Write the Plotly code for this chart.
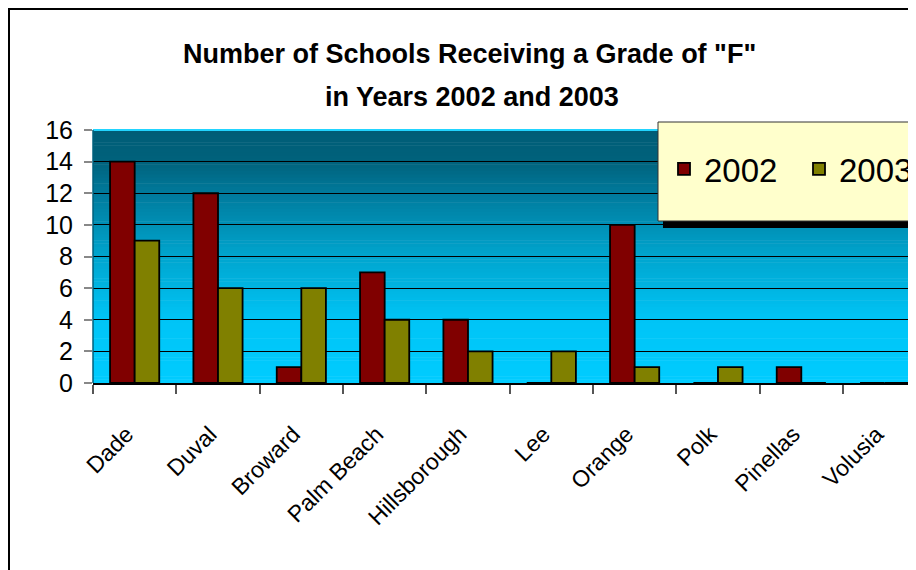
import plotly.graph_objects as go

counties = ["Dade", "Duval", "Broward", "Palm Beach", "Hillsborough",
            "Lee", "Orange", "Polk", "Pinellas", "Volusia"]
f_2002 = [14, 12, 1, 7, 4, 0, 10, 0, 1, 0]
f_2003 = [9, 6, 6, 4, 2, 2, 1, 1, 0, 0]
y_ticks = [0, 2, 4, 6, 8, 10, 12, 14, 16]
title_line1 = 'Number of Schools Receiving a Grade of "F"'
title_line2 = "in Years 2002 and 2003"

# page body has an 8px margin, so the figure is drawn 8px right/down
OFF = 8
W, H = 916, 570
# target plot area in screen pixels
SX0, SX1, SY0, SY1 = 93, 916, 130, 383
L = SX0 - OFF
R = W - (SX1 - OFF)
T = SY0 - OFF
B = H - (SY1 - OFF)
PW, PH = W - L - R, H - T - B
CAT_PX = 83.33


def px_x(px):
    return (px - SX0) / PW


def px_y(py):
    return (SY1 - py) / PH


FONT = "Liberation Sans, Arial, sans-serif"

fig = go.Figure()
fig.add_trace(go.Bar(name="2002", x=counties, y=f_2002,
                     marker=dict(color="#800000", line=dict(color="black", width=1.8))))
fig.add_trace(go.Bar(name="2003", x=counties, y=f_2003,
                     marker=dict(color="#808000", line=dict(color="black", width=1.8))))

# vertical gradient background of plot area
stops = [(0.0, (0, 204, 255)), (0.25, (0, 196, 246)), (0.5, (0, 165, 206)),
         (0.75, (0, 122, 156)), (0.875, (0, 98, 124)), (1.0, (0, 92, 118))]


def col_at(t):
    for (t0, c0), (t1, c1) in zip(stops[:-1], stops[1:]):
        if t0 <= t <= t1:
            f = (t - t0) / (t1 - t0) if t1 > t0 else 0
            return "rgb(%d,%d,%d)" % tuple(round(a + (b - a) * f) for a, b in zip(c0, c1))
    return "rgb(%d,%d,%d)" % stops[-1][1]


shapes = []
N = 80
for i in range(N):
    t0, t1 = i / N, (i + 1) / N
    shapes.append(dict(type="rect", xref="x domain", yref="y domain", layer="below",
                       x0=0, x1=1, y0=t0, y1=t1 + 0.002, line=dict(width=0),
                       fillcolor=col_at((t0 + t1) / 2)))
# plot area edges
shapes.append(dict(type="line", xref="x domain", yref="y domain", x0=0, x1=1, y0=1, y1=1,
                   line=dict(color="#22d4ff", width=2), layer="above"))
shapes.append(dict(type="line", xref="x domain", yref="y domain", x0=0, x1=0, y0=0, y1=1,
                   line=dict(color="#00617c", width=1.5), layer="above"))
# legend shadow + box
shapes.append(dict(type="rect", xref="paper", yref="paper",
                   x0=px_x(663), x1=px_x(945), y0=px_y(228), y1=px_y(127),
                   fillcolor="black", line=dict(width=0), layer="above"))
shapes.append(dict(type="rect", xref="paper", yref="paper",
                   x0=px_x(658), x1=px_x(940), y0=px_y(221), y1=px_y(122),
                   fillcolor="#FFFFCC", line=dict(color="#333333", width=1), layer="above"))
# outer chart frame
shapes.append(dict(type="rect", xref="paper", yref="paper",
                   x0=px_x(9), x1=px_x(940), y0=px_y(590), y1=px_y(9),
                   fillcolor="rgba(0,0,0,0)", line=dict(color="black", width=2), layer="above"))

annotations = [
    dict(text="<b>%s</b>" % title_line1, xref="paper", yref="paper",
         x=px_x(469), y=px_y(54), showarrow=False, xanchor="center", yanchor="middle",
         font=dict(family=FONT, size=27, color="black")),
    dict(text="<b>%s</b>" % title_line2, xref="paper", yref="paper",
         x=px_x(472), y=px_y(97), showarrow=False, xanchor="center", yanchor="middle",
         font=dict(family=FONT, size=27, color="black")),
]

fig.update_layout(
    width=W, height=H,
    margin=dict(l=L, r=R, t=T, b=B, pad=0, autoexpand=False),
    paper_bgcolor="white",
    plot_bgcolor="rgba(0,0,0,0)",
    barmode="group",
    bargap=0.41,
    bargroupgap=0,
    font=dict(family=FONT, color="black"),
    shapes=shapes,
    annotations=annotations,
    showlegend=True,
    legend=dict(orientation="h", x=px_x(664), y=px_y(169), xanchor="left", yanchor="middle",
                bgcolor="rgba(0,0,0,0)", borderwidth=0,
                font=dict(family=FONT, size=33, color="black"),
                entrywidth=90, entrywidthmode="pixels"),
    xaxis=dict(
        type="category", range=[-0.5, -0.5 + PW / CAT_PX],
        tickangle=-45, tickfont=dict(size=23),
        ticks="outside", tickson="boundaries", ticklen=9, tickcolor="#555555", tickwidth=1.5,
        showline=True, linecolor="black", linewidth=1.5,
        showgrid=False, ticklabelstandoff=27, ticklabelshift=-8,
    ),
    yaxis=dict(
        range=[0, 16], tickvals=y_ticks, tickfont=dict(size=25),
        ticks="outside", ticklen=8, tickcolor="#888888", tickwidth=1.5,
        showgrid=True, gridcolor="black", gridwidth=1,
        showline=False, zeroline=False, ticklabelstandoff=6,
    ),
)

fig.write_html("out.html")
